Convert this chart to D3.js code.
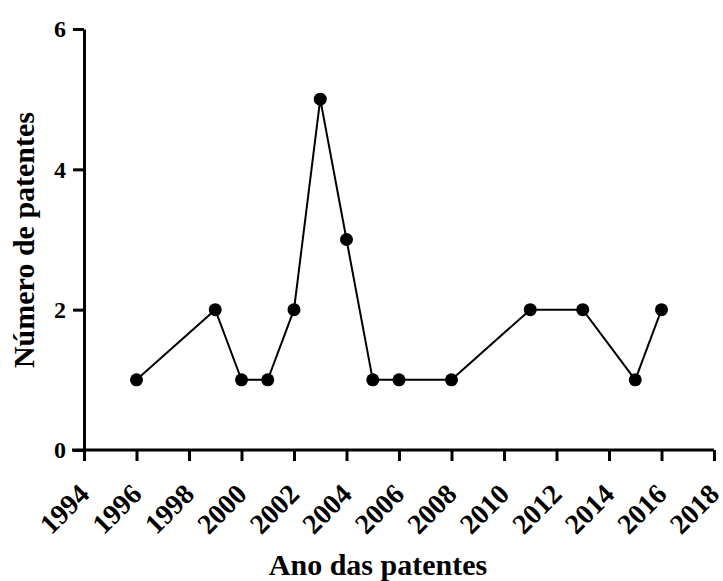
<!DOCTYPE html>
<html>
<head>
<meta charset="utf-8">
<script src="https://cdn.jsdelivr.net/npm/d3@7"></script>
<style>
  body { margin: 0; background: #fff; }
  text { font-family: "Liberation Serif", "Times New Roman", serif; font-weight: bold; }
</style>
</head>
<body>
<div id="chart"></div>
<script>
const years = [1996, 1999, 2000, 2001, 2002, 2003, 2004, 2005, 2006, 2008, 2011, 2013, 2015, 2016];
const counts = [1, 2, 1, 1, 2, 5, 3, 1, 1, 1, 2, 2, 1, 2];
const xTicks = [1994, 1996, 1998, 2000, 2002, 2004, 2006, 2008, 2010, 2012, 2014, 2016, 2018];
const yTicks = [0, 2, 4, 6];

const data = years.map((y, i) => ({ year: y, n: counts[i] }));

// plot area in page pixels
const margin = {top: 29, right: 9, bottom: 131, left: 84};
const W = 723, H = 581;
const width = W - margin.left - margin.right;
const height = H - margin.top - margin.bottom;

const svg = d3.select("#chart")
    .append("svg")
    .attr("width", W)
    .attr("height", H);

const g = svg.append("g")
    .attr("transform", `translate(${margin.left},${margin.top})`);

const x = d3.scaleLinear().domain([1994, 2018]).range([0, width]);
const y = d3.scaleLinear().domain([0, 6]).range([height, 0]);

// x axis
const xAxis = g.append("g")
    .attr("transform", `translate(0,${height})`)
    .call(d3.axisBottom(x).tickValues(xTicks).tickFormat(d3.format("d")).tickSize(11).tickSizeOuter(0));
xAxis.select(".domain").attr("stroke-width", 3).attr("d", `M-12,0H${width}`);
xAxis.selectAll(".tick line").attr("stroke-width", 3);
xAxis.selectAll("text")
    .style("font-size", "28px")
    .attr("fill", "#000")
    .style("text-anchor", "end")
    .attr("x", -28)
    .attr("y", 37)
    .attr("dy", "0")
    .attr("transform", "rotate(-45)");

// y axis
const yAxis = g.append("g")
    .call(d3.axisLeft(y).tickValues(yTicks).tickFormat(d3.format("d")).tickSize(11).tickSizeOuter(0));
yAxis.select(".domain").attr("stroke-width", 3);
yAxis.selectAll(".tick line").attr("stroke-width", 3);
yAxis.selectAll("text")
    .style("font-size", "24px")
    .attr("fill", "#000")
    .attr("x", -18);

// line + markers
g.append("path")
    .datum(data)
    .attr("fill", "none")
    .attr("stroke", "#000")
    .attr("stroke-width", 2)
    .attr("d", d3.line().x(d => x(d.year)).y(d => y(d.n)));

g.selectAll(".pt")
    .data(data)
    .enter().append("circle")
    .attr("class", "pt")
    .attr("cx", d => x(d.year))
    .attr("cy", d => y(d.n))
    .attr("r", 6.5)
    .attr("fill", "#000");

// axis titles
svg.append("text")
    .attr("x", 378)
    .attr("y", 575)
    .attr("text-anchor", "middle")
    .style("font-size", "30px")
    .text("Ano das patentes");

svg.append("text")
    .attr("transform", "translate(34,240) rotate(-90)")
    .attr("text-anchor", "middle")
    .style("font-size", "30px")
    .text("Número de patentes");
</script>
</body>
</html>
